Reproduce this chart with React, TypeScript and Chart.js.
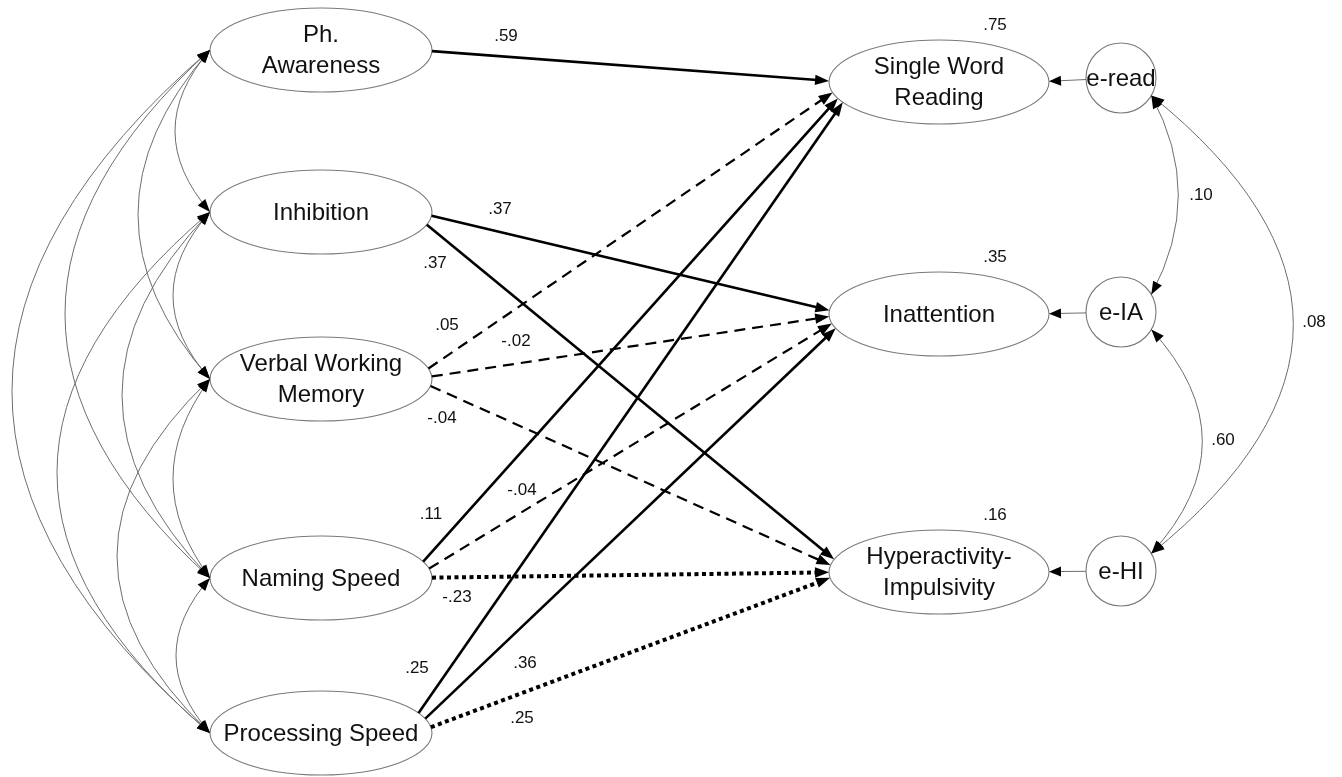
import React, { useEffect, useRef } from "react";
import { Chart, registerables } from "chart.js";

Chart.register(...registerables);

// ===== Data: variables, paths, coefficients =====
const NODE_NAMES = [
  "Ph.\nAwareness",
  "Inhibition",
  "Verbal Working\nMemory",
  "Naming Speed",
  "Processing Speed",
  "Single Word\nReading",
  "Inattention",
  "Hyperactivity-\nImpulsivity",
  "e-read",
  "e-IA",
  "e-HI",
];
const NODE_KIND = ["exo", "exo", "exo", "exo", "exo", "endo", "endo", "endo", "err", "err", "err"];

const ENDO_NODES = [5, 6, 7];
const ENDO_R2 = [".75", ".35", ".16"];

const PATH_FROM = [0, 1, 1, 2, 2, 2, 3, 3, 3, 4, 4, 4];
const PATH_TO = [5, 6, 7, 5, 6, 7, 5, 6, 7, 5, 6, 7];
const PATH_COEF = [".59", ".37", ".37", ".05", "-.02", "-.04", ".11", "-.04", "-.23", ".25", ".36", ".25"];
const PATH_LINE = ["solid", "solid", "solid", "dashed", "dashed", "dashed", "solid", "dashed", "dotted", "solid", "solid", "dotted"];

const ERROR_FROM = [8, 9, 10];
const ERROR_TO = [5, 6, 7];

const EXO_COV_A = [0, 0, 0, 0, 1, 1, 1, 2, 2, 3];
const EXO_COV_B = [1, 2, 3, 4, 2, 3, 4, 3, 4, 4];

const ERR_COV_A = [8, 9, 8];
const ERR_COV_B = [9, 10, 10];
const ERR_COV_VALUE = [".10", ".60", ".08"];

// ===== Layout (diagram coordinate space) =====
const NODE_X = [321, 321, 321, 321, 321, 939, 939, 939, 1121, 1121, 1121];
const NODE_Y = [50, 212, 379, 578, 733, 82, 314, 572, 78, 312, 571];
const EXO_COV_BULGE = [35, 72, 145, 198, 37, 88, 153, 37, 93, 34];
const ERR_COV_BULGE = [27, 51, 142];
const PATH_LABEL_X = [506, 500, 435, 447, 516, 442, 431, 522, 457, 417, 525, 522];
const PATH_LABEL_Y = [36, 209, 263, 325, 341, 418, 514, 490, 597, 668, 663, 718];
const ERR_COV_LABEL_X = [1201, 1223, 1314];
const ERR_COV_LABEL_Y = [195, 440, 322];

// ===== Styles =====
const EXO_RX = 111;
const ENDO_RX = 110;
const ELL_RY = 42;
const ERR_R = 35;
const FONT = "'Liberation Sans', Arial, sans-serif";
const NODE_FONT_PX = 24;
const COEF_FONT_PX = 17;
const OUTLINE = "#7a7a7a";
const COV_COLOR = "#6e6e6e";
const INK = "#111111";

type Pt = [number, number];
type DNode = { cx: number; cy: number; rx: number; ry: number; kind: string; label: string; pts: Pt[] };

function closestPair(a: DNode, b: DNode): [Pt, Pt] {
  let best = Infinity;
  let pa = a.pts[0];
  let pb = b.pts[0];
  for (const p of a.pts) {
    for (const q of b.pts) {
      const dx = p[0] - q[0];
      const dy = p[1] - q[1];
      const d = dx * dx + dy * dy;
      if (d < best) {
        best = d;
        pa = p;
        pb = q;
      }
    }
  }
  return [pa, pb];
}

function arrowHead(ctx: CanvasRenderingContext2D, tx: number, ty: number, ux: number, uy: number, len: number, half: number) {
  const bx = tx - ux * len;
  const by = ty - uy * len;
  ctx.beginPath();
  ctx.moveTo(tx, ty);
  ctx.lineTo(bx - uy * half, by + ux * half);
  ctx.lineTo(bx + uy * half, by - ux * half);
  ctx.closePath();
  ctx.fill();
}

function arrowLine(
  ctx: CanvasRenderingContext2D,
  p: Pt,
  q: Pt,
  width: number,
  dash: number[],
  color: string,
  len: number,
  half: number
) {
  const dx = q[0] - p[0];
  const dy = q[1] - p[1];
  const L = Math.hypot(dx, dy) || 1;
  const ux = dx / L;
  const uy = dy / L;
  ctx.save();
  ctx.strokeStyle = color;
  ctx.fillStyle = "#000";
  ctx.lineWidth = width;
  ctx.lineCap = "butt";
  ctx.setLineDash(dash);
  ctx.beginPath();
  ctx.moveTo(p[0], p[1]);
  ctx.lineTo(q[0] - ux * len * 0.85, q[1] - uy * len * 0.85);
  ctx.stroke();
  ctx.setLineDash([]);
  arrowHead(ctx, q[0], q[1], ux, uy, len, half);
  ctx.restore();
}

function covCurve(ctx: CanvasRenderingContext2D, p: Pt, q: Pt, bulge: number, side: number) {
  const mx = (p[0] + q[0]) / 2;
  const my = (p[1] + q[1]) / 2;
  const dx = q[0] - p[0];
  const dy = q[1] - p[1];
  const L = Math.hypot(dx, dy) || 1;
  let nx = -dy / L;
  let ny = dx / L;
  if (Math.sign(nx) !== Math.sign(side)) {
    nx = -nx;
    ny = -ny;
  }
  const c: Pt = [mx + nx * bulge * 2, my + ny * bulge * 2];
  ctx.save();
  ctx.strokeStyle = COV_COLOR;
  ctx.lineWidth = 1;
  ctx.beginPath();
  ctx.moveTo(p[0], p[1]);
  ctx.quadraticCurveTo(c[0], c[1], q[0], q[1]);
  ctx.stroke();
  ctx.fillStyle = "#000";
  for (const e of [p, q]) {
    const ex = e[0] - c[0];
    const ey = e[1] - c[1];
    const el = Math.hypot(ex, ey) || 1;
    arrowHead(ctx, e[0], e[1], ex / el, ey / el, 13, 5);
  }
  ctx.restore();
}

const diagramPlugin = {
  id: "semDiagram",
  beforeDraw(chart: any) {
    const ctx: CanvasRenderingContext2D = chart.ctx;
    ctx.save();
    ctx.fillStyle = "#ffffff";
    ctx.fillRect(0, 0, chart.width, chart.height);
    ctx.restore();
  },
  afterDatasetsDraw(chart: any) {
    const ctx: CanvasRenderingContext2D = chart.ctx;
    const xs = chart.scales.x;
    const ys = chart.scales.y;
    const sx = (v: number) => xs.getPixelForValue(v);
    const sy = (v: number) => ys.getPixelForValue(v);
    const kx = Math.abs(sx(1) - sx(0));
    const ky = Math.abs(sy(1) - sy(0));

    const N = 720;
    const nodes: DNode[] = NODE_NAMES.map((label, i) => {
      const kind = NODE_KIND[i];
      const rx = (kind === "err" ? ERR_R : kind === "exo" ? EXO_RX : ENDO_RX) * kx;
      const ry = (kind === "err" ? ERR_R : ELL_RY) * ky;
      const cx = sx(NODE_X[i]);
      const cy = sy(NODE_Y[i]);
      const pts: Pt[] = [];
      for (let k = 0; k < N; k++) {
        const t = (k / N) * Math.PI * 2;
        pts.push([cx + rx * Math.cos(t), cy + ry * Math.sin(t)]);
      }
      return { cx, cy, rx, ry, kind, label, pts };
    });

    // node shapes
    ctx.save();
    for (const n of nodes) {
      ctx.beginPath();
      ctx.ellipse(n.cx, n.cy, n.rx, n.ry, 0, 0, Math.PI * 2);
      ctx.fillStyle = "#ffffff";
      ctx.fill();
      ctx.strokeStyle = OUTLINE;
      ctx.lineWidth = 1.1;
      ctx.stroke();
    }
    ctx.restore();

    // covariances among exogenous variables (left)
    EXO_COV_A.forEach((a, i) => {
      const na = nodes[a];
      const nb = nodes[EXO_COV_B[i]];
      covCurve(ctx, [na.cx - na.rx, na.cy], [nb.cx - nb.rx, nb.cy], EXO_COV_BULGE[i] * kx, -1);
    });

    // covariances among error terms (right)
    const ang = Math.PI / 6;
    ERR_COV_A.forEach((a, i) => {
      const na = nodes[a];
      const nb = nodes[ERR_COV_B[i]];
      const p: Pt = [na.cx + na.rx * Math.cos(ang), na.cy + na.ry * Math.sin(ang)];
      const q: Pt = [nb.cx + nb.rx * Math.cos(ang), nb.cy - nb.ry * Math.sin(ang)];
      covCurve(ctx, p, q, ERR_COV_BULGE[i] * kx, 1);
    });

    // error -> endogenous
    ERROR_FROM.forEach((f, i) => {
      const [p, q] = closestPair(nodes[f], nodes[ERROR_TO[i]]);
      arrowLine(ctx, p, q, 1, [], COV_COLOR, 12, 5);
    });

    // structural paths
    PATH_FROM.forEach((f, i) => {
      const [p, q] = closestPair(nodes[f], nodes[PATH_TO[i]]);
      const kind = PATH_LINE[i];
      if (kind === "solid") arrowLine(ctx, p, q, 2.6, [], "#000", 14, 5.2);
      else if (kind === "dashed") arrowLine(ctx, p, q, 2.2, [11, 7], "#000", 14, 5.2);
      else arrowLine(ctx, p, q, 4, [4, 3.5], "#000", 14, 5.2);
    });

    // node labels
    ctx.save();
    ctx.fillStyle = INK;
    ctx.textAlign = "center";
    ctx.textBaseline = "middle";
    ctx.font = `${NODE_FONT_PX}px ${FONT}`;
    for (const n of nodes) {
      const lines = n.label.split("\n");
      const gap = 31;
      lines.forEach((ln, j) => {
        const off = (j - (lines.length - 1) / 2) * gap;
        ctx.fillText(ln, n.cx, n.cy + off + 1);
      });
    }

    // coefficient labels
    ctx.font = `${COEF_FONT_PX}px ${FONT}`;
    PATH_COEF.forEach((txt, i) => {
      ctx.fillText(txt, sx(PATH_LABEL_X[i]), sy(PATH_LABEL_Y[i]));
    });
    ENDO_NODES.forEach((idx, i) => {
      ctx.fillText(ENDO_R2[i], sx(NODE_X[idx] + 56), sy(NODE_Y[idx] - 57));
    });
    ERR_COV_VALUE.forEach((txt, i) => {
      ctx.fillText(txt, sx(ERR_COV_LABEL_X[i]), sy(ERR_COV_LABEL_Y[i]));
    });
    ctx.restore();
  },
};

export default function App() {
  const ref = useRef<HTMLCanvasElement>(null);
  useEffect(() => {
    document.body.style.margin = "0";
    const canvas = ref.current;
    if (!canvas) return;
    const chart = new Chart(canvas, {
      type: "scatter",
      data: {
        datasets: [
          {
            label: "variables",
            data: NODE_X.map((x, i) => ({ x, y: NODE_Y[i] })),
            pointRadius: 0,
            pointHoverRadius: 0,
          },
        ],
      },
      options: {
        animation: false,
        responsive: false,
        events: [],
        layout: { padding: 0 },
        plugins: { legend: { display: false }, tooltip: { enabled: false } },
        scales: {
          x: { type: "linear", min: 0, max: 1342, display: false },
          y: { type: "linear", min: 0, max: 777, reverse: true, display: false },
        },
      },
      plugins: [diagramPlugin],
    } as any);
    return () => chart.destroy();
  }, []);
  return (
    <div style={{ width: 1342, height: 777, background: "#ffffff" }}>
      <canvas ref={ref} width={1342} height={777} style={{ display: "block" }} />
    </div>
  );
}
